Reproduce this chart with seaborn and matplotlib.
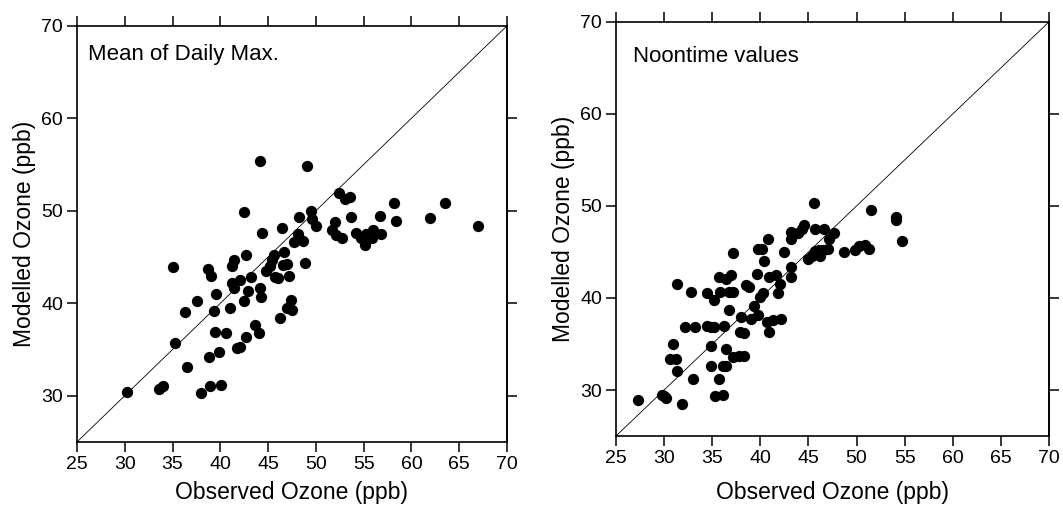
import matplotlib
matplotlib.use("Agg")
import matplotlib.pyplot as plt
import seaborn as sns
import pandas as pd

# ---- data ----
daily_obs = [30.2, 33.6, 34.0, 35.0, 35.3, 36.3, 36.5, 37.6, 38.0, 38.7, 39.0, 38.85, 38.9, 39.5,
             39.3, 39.4, 39.9, 40.1, 40.55, 41.05, 41.25, 41.4, 41.25, 41.4, 41.7, 42.05, 42.1,
             42.5, 42.45, 42.65, 42.9, 42.7, 43.2, 43.6, 44.15, 44.15, 44.25, 44.1, 44.4, 44.8,
             45.2, 45.4, 45.6, 45.7, 46.0, 46.25, 46.45, 46.55, 46.65, 47.0, 47.2, 47.0, 47.4,
             47.55, 47.7, 48.1, 48.2, 48.65, 48.9, 49.1, 49.45, 49.65, 49.97, 51.7, 52.0, 52.1,
             52.45, 52.7, 53.1, 53.6, 53.7, 54.2, 54.7, 55.1, 55.25, 55.9, 56.0, 56.7, 56.85,
             58.2, 58.35, 61.9, 63.5, 67.0]
daily_mod = [30.4, 30.7, 31.0, 43.9, 35.7, 39.1, 33.1, 40.2, 30.3, 43.7, 42.96, 34.2, 31.05, 41.0,
             39.2, 36.9, 34.7, 31.2, 36.8, 39.5, 44.0, 44.7, 42.2, 41.7, 35.2, 42.5, 35.25,
             49.9, 40.2, 45.2, 41.3, 36.3, 42.8, 37.6, 55.4, 41.65, 40.7, 36.8, 47.6, 43.5,
             44.0, 44.7, 45.2, 42.85, 42.7, 38.4, 48.1, 44.15, 45.5, 44.3, 42.95, 39.5, 40.3,
             39.3, 46.6, 47.5, 49.3, 46.7, 44.4, 54.8, 50.0, 49.15, 48.35, 47.9, 48.8, 47.4,
             51.9, 47.1, 51.3, 51.5, 49.3, 47.6, 47.1, 46.3, 47.5, 47.05, 47.95, 49.4, 47.5,
             50.8, 48.9, 49.2, 50.8, 48.4]

noon_obs = [27.3, 29.8, 30.0, 30.2, 30.9, 30.6, 31.2, 31.3, 31.3, 31.85, 32.2, 32.8, 33.0, 33.2,
            34.5, 34.45, 34.9, 34.9, 34.9, 35.2, 35.3, 35.2, 35.7, 35.7, 35.8, 36.1, 36.1, 36.2,
            36.4, 36.45, 36.4, 36.7, 36.9, 36.7, 37.2, 37.15, 37.2, 37.8, 38.3, 38.0, 37.9,
            38.3, 38.55, 38.8, 39.0, 39.3, 39.7, 39.8, 39.8, 40.0, 40.2, 40.3, 40.4, 40.8,
            40.85, 40.7, 40.95, 41.3, 41.6, 41.8, 42.0, 42.1, 42.45, 43.2, 43.2, 43.2, 43.2,
            43.95, 44.3, 44.55, 44.95, 45.35, 45.6, 45.7, 45.7, 46.1, 46.2, 46.6, 46.55, 47.0,
            47.1, 47.65, 48.7, 49.8, 50.3, 50.9, 51.3, 51.5, 54.1, 54.1, 54.7]
noon_mod = [28.9, 29.5, 29.3, 29.1, 35.0, 33.4, 33.4, 32.1, 41.5, 28.5, 36.9, 40.7, 31.2, 36.9,
            40.5, 37.0, 36.8, 34.8, 32.6, 39.8, 29.4, 36.8, 42.3, 31.2, 40.65, 32.6, 29.5, 37.0,
            32.6, 42.1, 34.5, 38.7, 42.5, 40.6, 40.65, 44.9, 33.6, 33.65, 33.7, 37.9, 36.3,
            36.2, 41.4, 41.2, 37.7, 39.1, 42.6, 45.3, 38.1, 40.1, 45.3, 40.5, 44.0, 46.4,
            42.25, 37.35, 36.3, 37.6, 42.5, 40.5, 41.5, 37.7, 45.0, 47.2, 46.45, 43.4, 42.3,
            47.1, 47.5, 47.9, 44.2, 44.6, 50.3, 47.5, 45.1, 45.2, 44.6, 47.5, 45.2, 45.3,
            46.45, 47.1, 45.0, 45.2, 45.65, 45.8, 45.3, 49.6, 48.8, 48.5, 46.2]

panel_titles = ["Mean of Daily Max.", "Noontime values"]
x_ticks = [25, 30, 35, 40, 45, 50, 55, 60, 65, 70]
y_ticks = [30, 40, 50, 60, 70]
right_ticks = [30, 40, 50, 60]

sns.set_style("ticks")
plt.rcParams["font.family"] = ["Liberation Sans", "DejaVu Sans"]
plt.rcParams.update({"text.color": "black", "axes.labelcolor": "black",
                     "xtick.color": "black", "ytick.color": "black",
                     "axes.edgecolor": "black"})

fig = plt.figure(figsize=(10.63, 5.05), dpi=100)
ax1 = fig.add_axes([0.0724, 0.1248, 0.4045, 0.824])
ax2 = fig.add_axes([0.5795, 0.1366, 0.4073, 0.820])

panels = [
    (ax1, daily_obs, daily_mod, panel_titles[0], (0.026, 0.918), 6),
    (ax2, noon_obs, noon_mod, panel_titles[1], (0.039, 0.904), 10),
]

for ax, obs, mod, title, tpos, lpad in panels:
    df = pd.DataFrame({"obs": obs, "mod": mod})
    ax.plot([25, 70], [25, 70], color="black", lw=0.6, zorder=1)
    sns.scatterplot(data=df, x="obs", y="mod", ax=ax, color="black", s=66,
                    linewidth=0, zorder=2)
    ax.set_xlim(25, 70)
    ax.set_ylim(25, 70)
    ax.set_xticks(x_ticks)
    ax.set_yticks(y_ticks)
    ax.tick_params(direction="out", length=7, width=1.1, labelsize=14, pad=3,
                   top=True, right=False, labeltop=False, labelright=False,
                   colors="black")
    for sp in ax.spines.values():
        sp.set_visible(True)
        sp.set_linewidth(1.2)
        sp.set_color("black")
    sec = ax.secondary_yaxis("right")
    sec.set_yticks(right_ticks)
    sec.tick_params(direction="out", length=7, width=1.1, labelright=False)
    sec.spines["right"].set_linewidth(1.2)
    ax.set_xlabel("Observed Ozone (ppb)", fontsize=16.5, labelpad=lpad)
    ax.set_ylabel("Modelled Ozone (ppb)", fontsize=16.5, labelpad=4)
    ax.text(tpos[0], tpos[1], title, transform=ax.transAxes, fontsize=16,
            ha="left", va="baseline")

fig.savefig("out.png", dpi=100, facecolor="white")
